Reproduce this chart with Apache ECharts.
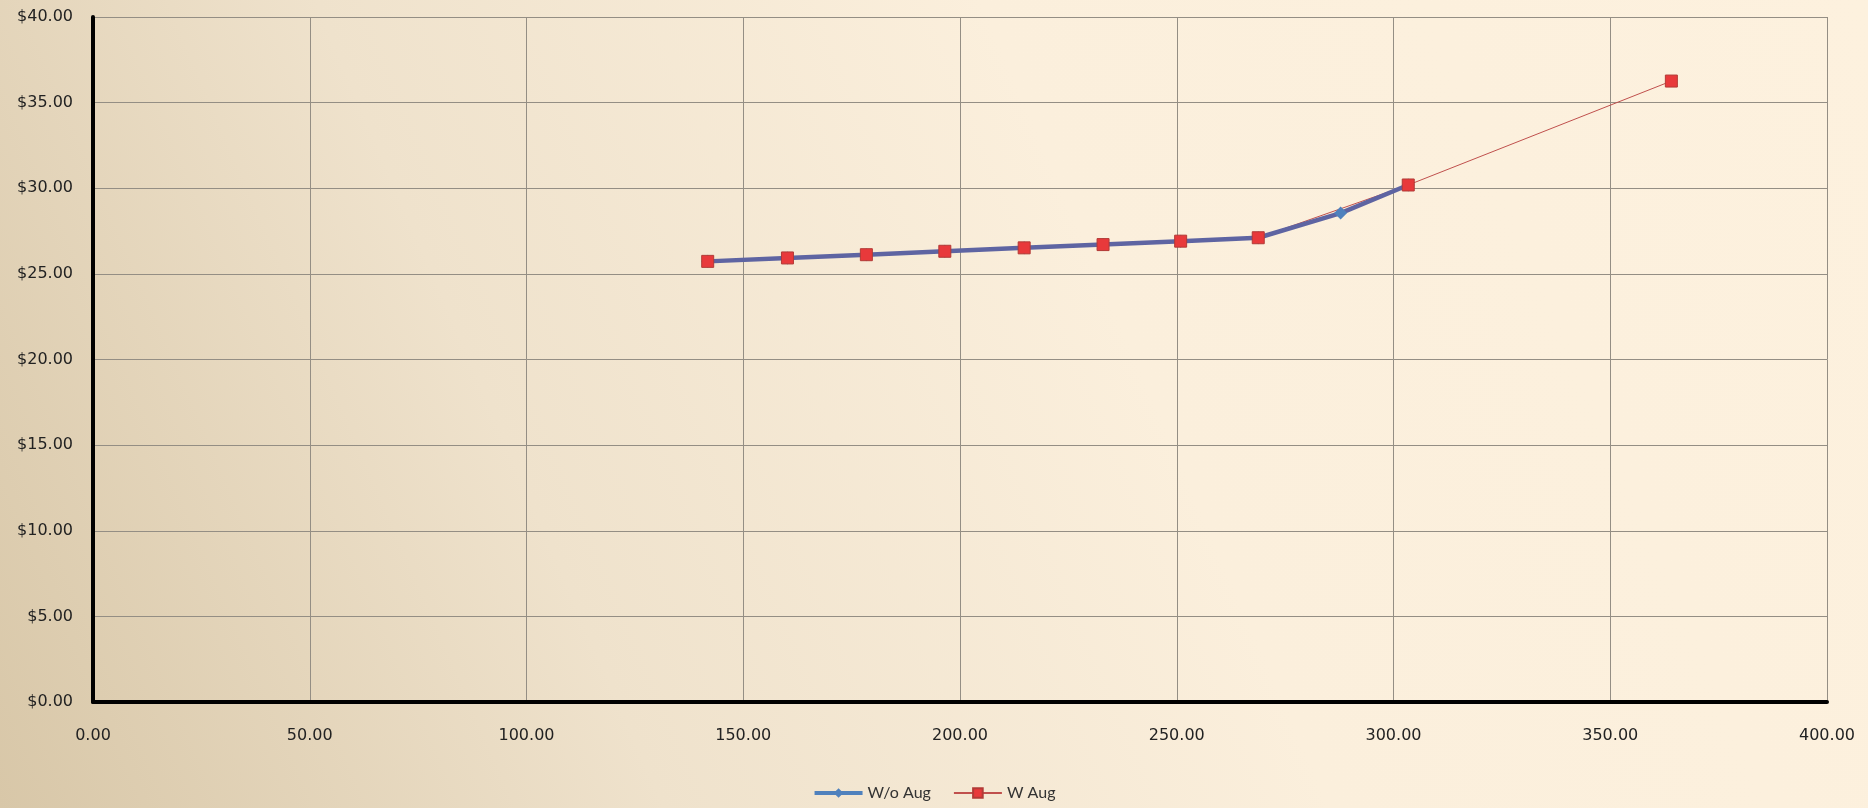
<!DOCTYPE html>
<html>
<head>
<meta charset="utf-8">
<script src="https://cdn.jsdelivr.net/npm/echarts@6/dist/echarts.min.js"></script>
<style>
  html, body { margin: 0; padding: 0; }
  #chart { width: 1868px; height: 808px; }
</style>
</head>
<body>
<div id="chart"></div>
<script>
// Volume (x) vs unit cost (y)
const xWithout = [141.8, 160.2, 178.4, 196.5, 214.8, 233.0, 250.9, 268.8, 287.8, 303.4];
const yWithout = [25.73, 25.93, 26.12, 26.32, 26.52, 26.71, 26.91, 27.11, 28.55, 30.19];
const xWith = [141.8, 160.2, 178.4, 196.5, 214.8, 233.0, 250.9, 268.8, 303.4, 364.1];
const yWith = [25.73, 25.93, 26.12, 26.32, 26.52, 26.71, 26.91, 27.11, 30.19, 36.26];
const seriesNames = ['W/o Aug', 'W Aug'];

const pairs = (xs, ys) => xs.map((x, i) => [x, ys[i]]);

const redMarker = { color: '#e8393b', borderColor: '#b23a36', borderWidth: 1, opacity: 1 };

const chart = echarts.init(document.getElementById('chart'));
chart.setOption({
  backgroundColor: {
    type: 'linear', x: 0, y: 1, x2: 1, y2: 0,
    colorStops: [
      { offset: 0, color: '#d8c7a8' },
      { offset: 0.3, color: '#efe2cc' },
      { offset: 0.6, color: '#fbefdc' },
      { offset: 1, color: '#fdf1de' }
    ]
  },
  animation: false,
  grid: { left: 93, right: 41, top: 17, bottom: 106, containLabel: false },
  legend: {
    bottom: 2,
    left: 'center',
    itemWidth: 48,
    itemHeight: 12,
    itemGap: 22,
    textStyle: { fontFamily: 'Lato', fontSize: 16, color: '#333' },
    data: [
      { name: seriesNames[0], lineStyle: { color: '#4f81bd', width: 4 }, itemStyle: { color: '#4f81bd' } },
      { name: seriesNames[1] }
    ]
  },
  xAxis: {
    type: 'value', min: 0, max: 400, interval: 50,
    axisLine: { show: true, onZero: false, lineStyle: { color: '#000', width: 4 } },
    axisTick: { show: false },
    splitLine: { show: true, lineStyle: { color: '#948e84', width: 1 } },
    axisLabel: {
      margin: 26, color: '#222', fontFamily: 'DejaVu Sans', fontSize: 16,
      formatter: v => v.toFixed(2)
    }
  },
  yAxis: {
    type: 'value', min: 0, max: 40, interval: 5,
    axisLine: { show: true, onZero: false, lineStyle: { color: '#000', width: 4 } },
    axisTick: { show: false },
    splitLine: { show: true, lineStyle: { color: '#948e84', width: 1 } },
    axisLabel: {
      margin: 20, color: '#222', fontFamily: 'DejaVu Sans', fontSize: 16,
      formatter: v => '$' + v.toFixed(2)
    }
  },
  series: [
    {
      // thin red connecting line, beneath the thick blue line
      name: seriesNames[1],
      type: 'line',
      data: pairs(xWith, yWith),
      showSymbol: false,
      symbol: 'rect',
      symbolSize: 12,
      lineStyle: { color: '#c0504d', width: 1 },
      itemStyle: redMarker,
      z: 1
    },
    {
      name: seriesNames[0],
      type: 'line',
      data: pairs(xWithout, yWithout),
      symbol: 'diamond',
      symbolSize: 13,
      lineStyle: { color: '#5e64a2', width: 4.5 },
      itemStyle: { color: '#4f81bd' },
      z: 2
    },
    {
      // red square markers on top
      name: seriesNames[1],
      type: 'scatter',
      data: pairs(xWith, yWith),
      symbol: 'rect',
      symbolSize: 12,
      itemStyle: redMarker,
      z: 3
    }
  ]
});
</script>
</body>
</html>
